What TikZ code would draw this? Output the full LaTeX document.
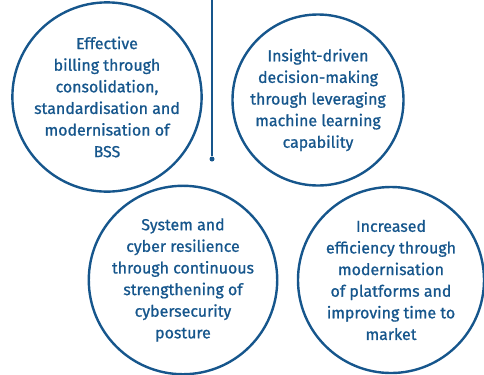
\documentclass[tikz,border=0pt]{standalone}
\usepackage{fontspec}
\setmainfont{Fira Sans}[UprightFeatures={FakeBold=0.9}]
\definecolor{bssblue}{RGB}{22,86,140}
\begin{document}
\begin{tikzpicture}[x=1bp, y=-1bp,
    goal/.style={circle, draw=bssblue, line width=2.4bp, text=bssblue,
        align=center, inner sep=0pt,
        font=\fontsize{16}{21.7}\selectfont}]
    \useasboundingbox (0,0) rectangle (484,374);

    % Goal circles
    \node[goal, minimum size=180bp] (billing) at (107,97)
        {Effective\\billing through\\consolidation,\\standardisation and\\modernisation of\\BSS};
    \node[goal, minimum size=171bp] (insight) at (318,100)
        {Insight-driven\\decision-making\\through leveraging\\machine learning\\capability};
    \node[goal, minimum size=186bp] (cyber) at (183,280)
        {System and\\cyber resilience\\through continuous\\strengthening of\\cybersecurity\\posture};
    \node[goal, minimum size=186bp] (efficiency) at (391,280)
        {Increased\\efficiency through\\modernisation\\of platforms and\\improving time to\\market};

    % Stub line with its end dot
    \coordinate (top) at (212,0);
    \node[circle, fill=bssblue, inner sep=0pt, minimum size=5bp] (dot) at (212,159) {};
    \draw[bssblue, line width=1.2bp] (top) -- (dot);
\end{tikzpicture}
\end{document}
